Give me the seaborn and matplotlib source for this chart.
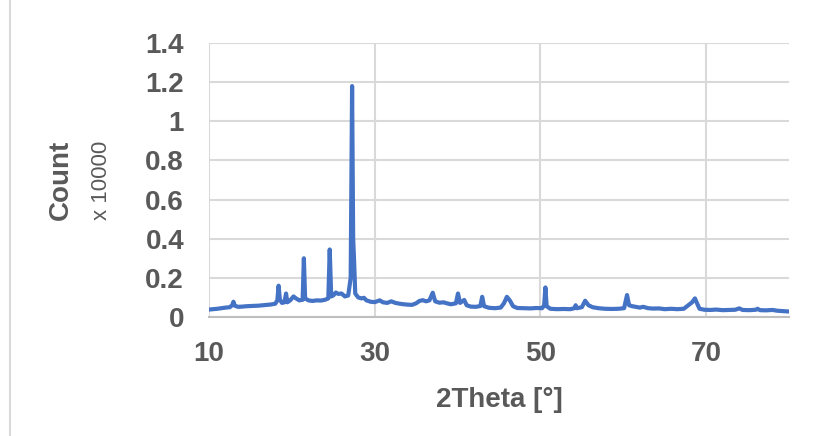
"""
XRD pattern - Count vs 2Theta
"""

import pandas as pd
import seaborn as sns
import matplotlib.pyplot as plt
from matplotlib.patches import Rectangle

# 2Theta positions (degrees)
two_theta = [
    10.0, 10.5, 11.0, 11.5, 12.0, 12.5, 12.8, 12.95, 13.1, 13.5,
    14.0, 14.5, 15.0, 15.5, 16.0, 16.5, 17.0, 17.5, 18.0, 18.25,
    18.4, 18.55, 18.8, 19.1, 19.3, 19.45, 19.8, 20.2, 20.5, 20.9,
    21.3, 21.45, 21.6, 22.0, 22.5, 23.0, 23.5, 24.0, 24.4, 24.57,
    24.75, 25.0, 25.3, 25.6, 26.0, 26.4, 26.8, 27.1, 27.27, 27.4,
    27.5, 27.65, 28.0, 28.4, 28.7, 29.0, 29.5, 30.0, 30.6, 31.0,
    31.5, 32.0, 32.5, 33.0, 33.5, 34.0, 34.5, 35.0, 35.4, 35.8,
    36.2, 36.6, 37.0, 37.3, 37.8, 38.3, 38.7, 39.2, 39.8, 40.05,
    40.3, 40.8, 41.1, 41.6, 42.2, 42.75, 42.97, 43.2, 43.8, 44.5,
    45.2, 45.6, 45.95, 46.3, 46.7, 47.2, 48.0, 48.8, 49.5, 50.2,
    50.45, 50.6, 50.75, 51.2, 52.0, 52.8, 53.6, 54.1, 54.25, 54.4,
    55.0, 55.4, 55.8, 56.3, 57.0, 57.8, 58.6, 59.4, 60.1, 60.45,
    60.7, 61.1, 61.5, 62.0, 62.4, 63.0, 63.6, 64.3, 65.0, 65.8,
    66.5, 67.3, 67.9, 68.3, 68.65, 68.9, 69.2, 69.8, 70.5, 71.2,
    72.0, 72.8, 73.5, 74.0, 74.4, 75.2, 76.0, 76.2, 76.5, 77.2,
    78.0, 78.6, 79.3, 80.0,
]

# intensity in units of 10000 counts
count = [
    0.038, 0.040, 0.042, 0.045, 0.048, 0.050, 0.060, 0.078, 0.058, 0.052,
    0.053, 0.055, 0.056, 0.057, 0.058, 0.060, 0.062, 0.064, 0.068, 0.085,
    0.160, 0.090, 0.072, 0.075, 0.120, 0.075, 0.085, 0.105, 0.095, 0.085,
    0.088, 0.300, 0.095, 0.085, 0.082, 0.085, 0.084, 0.088, 0.095, 0.345,
    0.105, 0.110, 0.125, 0.118, 0.120, 0.105, 0.110, 0.200, 1.180, 0.400,
    0.300, 0.120, 0.100, 0.095, 0.098, 0.085, 0.078, 0.076, 0.085, 0.075,
    0.072, 0.080, 0.072, 0.068, 0.065, 0.063, 0.062, 0.070, 0.082, 0.086,
    0.080, 0.085, 0.124, 0.080, 0.073, 0.075, 0.070, 0.065, 0.070, 0.120,
    0.072, 0.087, 0.060, 0.053, 0.052, 0.056, 0.103, 0.055, 0.047, 0.045,
    0.048, 0.070, 0.103, 0.085, 0.055, 0.046, 0.045, 0.044, 0.046, 0.045,
    0.060, 0.151, 0.055, 0.042, 0.040, 0.041, 0.040, 0.045, 0.060, 0.045,
    0.050, 0.083, 0.060, 0.050, 0.045, 0.042, 0.041, 0.042, 0.045, 0.112,
    0.060, 0.055, 0.052, 0.048, 0.052, 0.045, 0.043, 0.044, 0.040, 0.042,
    0.040, 0.042, 0.062, 0.075, 0.095, 0.070, 0.042, 0.037, 0.036, 0.038,
    0.035, 0.036, 0.037, 0.044, 0.036, 0.035, 0.037, 0.042, 0.035, 0.034,
    0.036, 0.032, 0.030, 0.028,
]

x_ticks = [10, 30, 50, 70]
y_ticks = [0, 0.2, 0.4, 0.6, 0.8, 1.0, 1.2, 1.4]

GRAY_TEXT = "#595959"
GRID = "#d9d9d9"
LINE = "#4472C4"


def main():
    df = pd.DataFrame({"2Theta": two_theta, "Count": count})

    sns.set_theme(style="white")
    plt.rcParams["font.family"] = ["Liberation Sans", "DejaVu Sans"]

    fig = plt.figure(figsize=(8.22, 4.36), dpi=100)
    ax = fig.add_axes([209 / 822, 1 - 317 / 436, 580 / 822, 274 / 436])

    sns.lineplot(data=df, x="2Theta", y="Count", ax=ax,
                 color=LINE, linewidth=3.0, sort=False)

    ax.set_xlim(10, 80)
    ax.set_ylim(0, 1.4)
    ax.set_xticks(x_ticks)
    ax.set_yticks(y_ticks)
    ax.yaxis.set_major_formatter(plt.FuncFormatter(lambda v, p: f"{v:g}"))

    ax.grid(True, color=GRID, linewidth=1.5)
    ax.set_axisbelow(True)
    for side in ["left", "top", "right"]:
        ax.spines[side].set_visible(False)
    ax.spines["bottom"].set_color("#bfbfbf")
    ax.spines["bottom"].set_linewidth(1.5)

    ax.tick_params(axis="both", length=0, labelsize=20, labelcolor=GRAY_TEXT)
    ax.tick_params(axis="y", pad=18)
    ax.tick_params(axis="x", pad=17)
    for lbl in ax.get_xticklabels() + ax.get_yticklabels():
        lbl.set_fontweight("bold")

    ax.set_xlabel("2Theta [°]", fontsize=20, fontweight="bold",
                  color=GRAY_TEXT, labelpad=15)
    ax.set_ylabel("")

    fig.text(61 / 822, 1 - 180 / 436, "Count", rotation=90, fontsize=20,
             fontweight="bold", color=GRAY_TEXT, ha="center", va="center")
    fig.text(101 / 822, 1 - 180 / 436, "x 10000", rotation=90, fontsize=16,
             color=GRAY_TEXT, ha="center", va="center")

    # chart area border
    fig.patches.append(Rectangle((10 / 822, -0.2), 1.2, 1.2 + (1 - 13 / 436),
                                 transform=fig.transFigure, fill=False,
                                 edgecolor=GRID, linewidth=1.5))

    fig.savefig("out.png", dpi=100)


if __name__ == "__main__":
    main()
